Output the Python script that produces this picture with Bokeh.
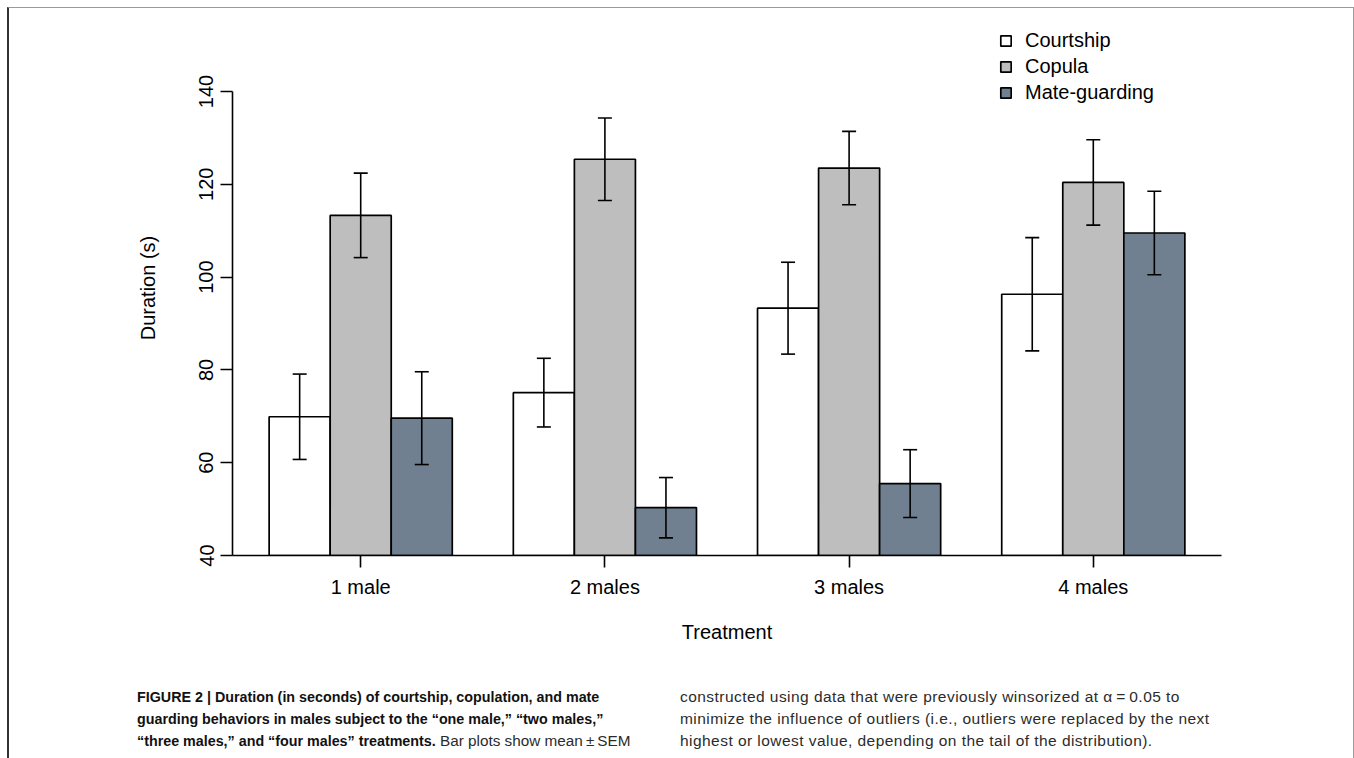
import math
from bokeh.plotting import figure
from bokeh.models import (ColumnDataSource, Whisker, TeeHead, FixedTicker, Legend,
                          LegendItem, Div)
from bokeh.layouts import column
from bokeh.embed import file_html
from bokeh.resources import INLINE

# ---------------- data ----------------
treatments = ["1 male", "2 males", "3 males", "4 males"]
behaviors = ["Courtship", "Copula", "Mate-guarding"]
courtship = [69.9, 75.1, 93.3, 96.3]
courtship_sem = [9.2, 7.4, 9.9, 12.2]
copula = [113.3, 125.4, 123.5, 120.4]
copula_sem = [9.1, 8.9, 7.9, 9.2]
mate_guarding = [69.6, 50.3, 55.5, 109.5]
mate_guarding_sem = [10.0, 6.5, 7.3, 9.0]
y_ticks = [40, 60, 80, 100, 120, 140]
colors = ["#FFFFFF", "#BEBEBE", "#708090"]

series = [courtship, copula, mate_guarding]
sems = [courtship_sem, copula_sem, mate_guarding_sem]

FONT = "Liberation Sans"
FS = "20px"

p = figure(width=1338, height=652, output_backend="svg", toolbar_location=None,
           x_range=(0.4, 16.6), y_range=(40, 155.3),
           min_border_left=223, min_border_right=126,
           min_border_top=12, min_border_bottom=105)
p.grid.visible = False
p.outline_line_color = None
p.background_fill_color = "white"
p.border_fill_color = "white"

renderers = []
for j, (vals, errs) in enumerate(zip(series, sems)):
    xs = [4 * i + 1.5 + j for i in range(len(treatments))]
    src = ColumnDataSource(dict(x=xs, top=vals,
                                upper=[v + e for v, e in zip(vals, errs)],
                                lower=[v - e for v, e in zip(vals, errs)]))
    r = p.vbar(x="x", top="top", bottom=40, width=1.0, source=src,
               fill_color=colors[j], line_color="black", line_width=1.7)
    renderers.append(r)
    w = Whisker(base="x", upper="upper", lower="lower", source=src,
                line_color="black", line_width=1.6, level="overlay",
                upper_head=TeeHead(size=14, line_color="black", line_width=1.6),
                lower_head=TeeHead(size=14, line_color="black", line_width=1.6))
    p.add_layout(w)

# axes
group_centers = [4 * i + 2.5 for i in range(len(treatments))]
p.xaxis.ticker = FixedTicker(ticks=group_centers)
p.xaxis.major_label_overrides = {c: t for c, t in zip(group_centers, treatments)}
p.xaxis.axis_label = "Treatment"
p.yaxis.ticker = FixedTicker(ticks=y_ticks)
p.yaxis.bounds = (40, 140)
p.yaxis.axis_label = "Duration (s)"
p.yaxis.major_label_orientation = "vertical"

for ax in (p.xaxis, p.yaxis):
    ax.axis_line_color = "black"
    ax.axis_line_width = 1.6
    ax.major_tick_line_color = "black"
    ax.major_tick_line_width = 1.6
    ax.major_tick_out = 12
    ax.major_tick_in = 0
    ax.minor_tick_line_color = None
    ax.major_label_text_font = FONT
    ax.major_label_text_font_size = FS
    ax.major_label_text_color = "black"
    ax.axis_label_text_font = FONT
    ax.axis_label_text_font_size = FS
    ax.axis_label_text_font_style = "normal"
    ax.axis_label_text_color = "black"

p.xaxis.major_label_standoff = 8
p.xaxis.axis_label_standoff = 20
p.yaxis.major_label_standoff = 7
p.yaxis.axis_label_standoff = 38

legend = Legend(items=[LegendItem(label=b, renderers=[r]) for b, r in zip(behaviors, renderers)],
                location=(767, 451), orientation="vertical",
                glyph_width=13, glyph_height=13, label_height=20, spacing=3,
                label_standoff=13, padding=0, margin=0,
                border_line_color=None, background_fill_alpha=0,
                label_text_font=FONT, label_text_font_size=FS, label_text_color="black")
p.add_layout(legend)

caption_html = f"""
<div style="position:relative;width:1334px;height:88px;font-family:'{FONT}';line-height:22px;color:#2b2b2b;">
  <div style="position:absolute;left:123px;top:21px;white-space:nowrap;font-size:15.3px;letter-spacing:0px;">
    <b style="color:#111;font-size:14.3px;">FIGURE 2 | Duration (in seconds) of courtship, copulation, and mate</b><br>
    <b style="color:#111;font-size:14.3px;">guarding behaviors in males subject to the \u201cone male,\u201d \u201ctwo males,\u201d</b><br>
    <b style="color:#111;font-size:14.3px;">\u201cthree males,\u201d and \u201cfour males\u201d treatments.</b> Bar plots show mean\u2009\u00b1\u2009SEM
  </div>
  <div style="position:absolute;left:666px;top:21px;white-space:nowrap;font-size:15.5px;letter-spacing:0.45px;">
    constructed using data that were previously winsorized at \u03b1\u2009=\u20090.05 to<br>
    minimize the influence of outliers (i.e., outliers were replaced by the next<br>
    highest or lowest value, depending on the tail of the distribution).
  </div>
</div>
"""
cap = Div(text=caption_html, width=1334, height=88)

layout = column(p, cap, styles={"margin-left": "7px", "margin-top": "7px",
                                "border-top": "1px solid #9a9a9a",
                                "border-left": "2px solid #333333",
                                "border-right": "2px solid #9a9a9a"})

open("out.html", "w").write(file_html(layout, INLINE))
